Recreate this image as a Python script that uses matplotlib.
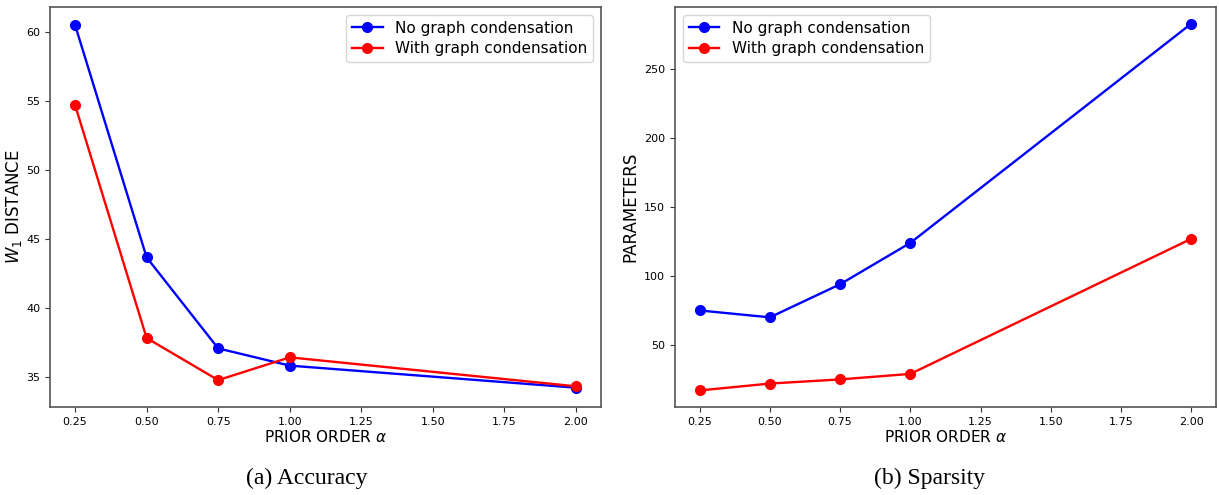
import matplotlib.pyplot as plt

alpha = [0.25, 0.5, 0.75, 1.0, 2.0]
x_ticks = [0.25, 0.50, 0.75, 1.00, 1.25, 1.50, 1.75, 2.00]

w1_no_gc = [60.5, 43.65, 37.05, 35.8, 34.2]
w1_with_gc = [54.7, 37.8, 34.75, 36.4, 34.3]

params_no_gc = [75, 70, 94, 124, 283]
params_with_gc = [17, 22, 25, 29, 127]

fig = plt.figure(figsize=(12.19, 4.95), dpi=100)
ax1 = fig.add_axes([50/1219, 1-407/495, 551/1219, 400/495])
ax2 = fig.add_axes([675/1219, 1-407/495, 541/1219, 400/495])

for ax, y1, y2, ylab in [(ax1, w1_no_gc, w1_with_gc, '$W_1$ DISTANCE'),
                         (ax2, params_no_gc, params_with_gc, 'PARAMETERS')]:
    ax.plot(alpha, y1, 'o-', color='blue', lw=1.7, ms=7, label='No graph condensation')
    ax.plot(alpha, y2, 'o-', color='red', lw=1.7, ms=7, label='With graph condensation')
    ax.set_xticks(x_ticks)
    ax.set_xticklabels(['%.2f' % t for t in x_ticks])
    ax.tick_params(labelsize=8, color='#333333', width=0.8)
    ax.set_xlabel(r'PRIOR ORDER $\alpha$', fontsize=11, labelpad=2)
    ax.set_ylabel(ylab, fontsize=12)
    for s in ax.spines.values():
        s.set_color('#555555')
        s.set_linewidth(1.2)

ax1.yaxis.set_label_coords(-0.048, 0.5)
ax2.yaxis.set_label_coords(-0.065, 0.5)

ax1.set_yticks([35, 40, 45, 50, 55, 60])
ax1.set_ylim(32.8, 61.8)
ax2.set_yticks([50, 100, 150, 200, 250])
ax2.set_ylim(5, 295)

ax1.legend(loc='upper right', fontsize=11, handlelength=2, labelspacing=0.35)
ax2.legend(loc='upper left', fontsize=11, handlelength=2, labelspacing=0.35)

fig.text(307/1219, 1-478/495, '(a) Accuracy', ha='center', va='center',
         fontsize=17, family='Liberation Serif')
fig.text(930/1219, 1-478/495, '(b) Sparsity', ha='center', va='center',
         fontsize=17, family='Liberation Serif')

fig.savefig('out.png', dpi=100)
